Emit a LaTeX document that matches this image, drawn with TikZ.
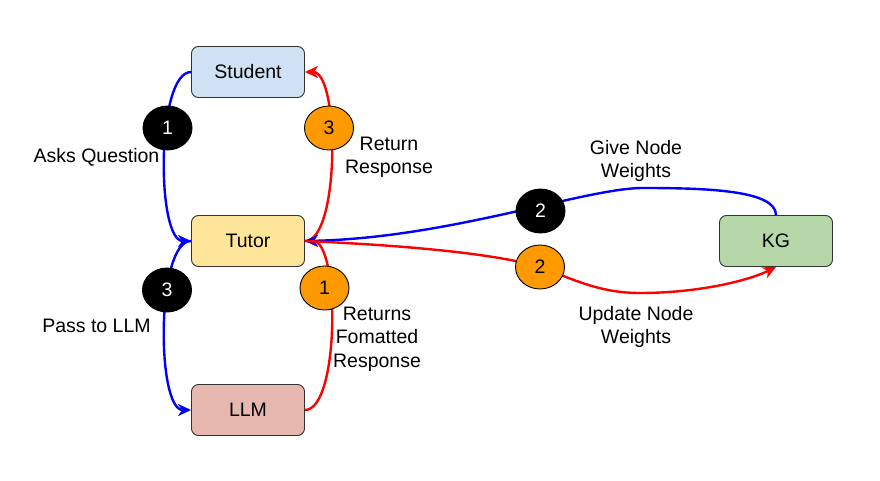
\documentclass[tikz,border=0pt]{standalone}
\usepackage{fontspec}
\setmainfont{Liberation Sans}
\usetikzlibrary{arrows.meta,shapes.geometric}
\definecolor{stucol}{HTML}{CFE2F3}
\definecolor{tutcol}{HTML}{FFE599}
\definecolor{llmcol}{HTML}{E6B8AF}
\definecolor{kgcol}{HTML}{B6D7A8}
\definecolor{orangecol}{HTML}{FF9900}
\tikzset{box/.style={draw=black!80,rounded corners=7pt,line width=0.9pt,minimum width=113pt,minimum height=51pt,inner sep=0pt},
badge/.style={ellipse,draw=black,line width=0.9pt,minimum width=49pt,minimum height=44pt,inner sep=0pt},
link/.style={line width=2.4pt,-{Stealth[length=13pt,width=12pt,inset=4pt]}},
lbl/.style={align=center,inner sep=0pt}}
\begin{document}
\begin{tikzpicture}[x=1pt,y=1pt,font=\fontsize{19.5}{23.5}\selectfont]
\useasboundingbox(0,0)rectangle(880,480);
\fill[white](0,0)rectangle(880,480);
\node[box,fill=stucol](S)at(248,408){Student};
\node[box,fill=tutcol](T)at(248,239){Tutor};
\node[box,fill=llmcol](L)at(248,70){LLM};
\node[box,fill=kgcol](K)at(776,239){KG};
\coordinate(topb)at(643,292);\coordinate(midr)at(540,213);\coordinate(lowr)at(640,187);
% links
\draw[link,blue](S.west)to[out=180,in=180,looseness=0.53](T.west);
\draw[link,red](T.east)to[out=0,in=0,looseness=0.53](S.east);
\draw[link,blue](T.west)to[out=180,in=180,looseness=0.53](L.west);
\draw[link,red](L.east)to[out=0,in=0,looseness=0.53](T.east);
\draw[link,blue](K.north)..controls(776,290)and(705,292)..(topb)..controls(585,292)and(450,242)..(T.east);
\draw[link,red](T.east)..controls(420,234)and(500,225)..(midr)..controls(575,200)and(600,187)..(lowr)..controls(700,187)and(750,200)..(K.south);
% step badges
\node[badge,fill=black,text=white](b1)at(167.5,352){1};
\node[badge,fill=orangecol](o3)at(329,352){3};
\node[badge,fill=black,text=white](b3)at(167,190){3};
\node[badge,fill=orangecol](o1)at(324.5,192){1};
\node[badge,fill=black,text=white](b2)at(540.5,269){2};
\node[badge,fill=orangecol](o2)at(540,213){2};
% labels
\node[lbl](ask)at(96.5,323){Asks Question};
\node[lbl](pass)at(96.5,154){Pass to LLM};
\node[lbl](ret)at(389,322.5){Return\\Response};
\node[lbl](fmt)at(377,141){Returns\\Fomatted\\Response};
\node[lbl](give)at(636,319){Give Node\\Weights};
\node[lbl](upd)at(636,153){Update Node\\Weights};
\end{tikzpicture}
\end{document}
